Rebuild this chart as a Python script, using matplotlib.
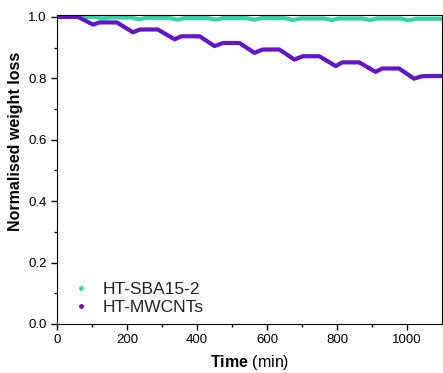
import matplotlib
matplotlib.use("Agg")
from matplotlib import pyplot as plt
from matplotlib.lines import Line2D

plt.rcParams["font.family"] = ["Liberation Sans", "DejaVu Sans"]
plt.rcParams["mathtext.fontset"] = "custom"
plt.rcParams["mathtext.bf"] = "Liberation Sans:bold"
plt.rcParams["mathtext.rm"] = "Liberation Sans"

t_sba = [0, 110, 130, 150, 210, 235, 255, 320, 345, 365, 430, 455, 475, 540, 565, 585,
         650, 675, 695, 760, 785, 805, 870, 895, 915, 980, 1005, 1025, 1100]
w_sba = [1.0, 1.0, 0.995, 0.998, 0.998, 0.992, 0.997, 0.997, 0.991, 0.996, 0.996, 0.991,
         0.996, 0.996, 0.991, 0.996, 0.996, 0.990, 0.995, 0.995, 0.990, 0.995, 0.995,
         0.990, 0.995, 0.995, 0.989, 0.994, 0.994]

t_cnt = [0, 60, 103, 122, 171, 217, 237, 288, 336, 355, 407, 450, 474, 521, 564, 588,
         635, 678, 702, 749, 796, 815, 863, 910, 929, 977, 1020, 1043, 1100]
w_cnt = [1.0, 1.0, 0.975, 0.982, 0.982, 0.950, 0.959, 0.959, 0.927, 0.937, 0.937, 0.905,
         0.915, 0.915, 0.883, 0.894, 0.894, 0.861, 0.872, 0.872, 0.840, 0.852, 0.852,
         0.821, 0.832, 0.832, 0.799, 0.807, 0.808]

labels = ["HT-SBA15-2", "HT-MWCNTs"]
col_sba = "#35d4a0"
col_cnt = "#6315c9"

fig = plt.figure(figsize=(4.43, 3.73), dpi=100)
ax = fig.add_axes([0.1287, 0.1314, 0.8693, 0.829])

ax.plot(t_sba, w_sba, color=col_sba, lw=3, solid_joinstyle="round")
ax.plot(t_cnt, w_cnt, color=col_cnt, lw=3, solid_joinstyle="round")

ax.set_xlim(0, 1100)
ax.set_ylim(0, 1.007)
ax.set_xticks([0, 200, 400, 600, 800, 1000])
ax.set_xticks(range(100, 1100, 200), minor=True)
ax.set_yticks([0.0, 0.2, 0.4, 0.6, 0.8, 1.0])
ax.set_yticks([0.1, 0.3, 0.5, 0.7, 0.9], minor=True)
ax.tick_params(which="major", direction="out", length=4, width=1, labelsize=9.5)
ax.tick_params(which="minor", direction="out", length=2.5, width=1)

# Achsenbeschriftung (y-Label etwas oberhalb der Mitte wie im Original)
ax.set_ylabel("Normalised weight loss", fontsize=11.5, fontweight="bold")
ax.yaxis.set_label_coords(-0.088, 0.59)
ax.set_xlabel(r"$\bf{Time}$ (min)", fontsize=11.5, labelpad=5)

handles = [Line2D([], [], ls="none", marker="o", ms=2.5, color=col_sba),
           Line2D([], [], ls="none", marker="o", ms=2.5, color=col_cnt)]
ax.legend(handles, labels, loc="lower left", bbox_to_anchor=(0.039, 0.03),
          frameon=False, fontsize=12.5, handlelength=1.0, handletextpad=0.75,
          labelspacing=0.12, borderpad=0, borderaxespad=0, labelcolor="#222222")

fig.savefig("out.png", dpi=100)
